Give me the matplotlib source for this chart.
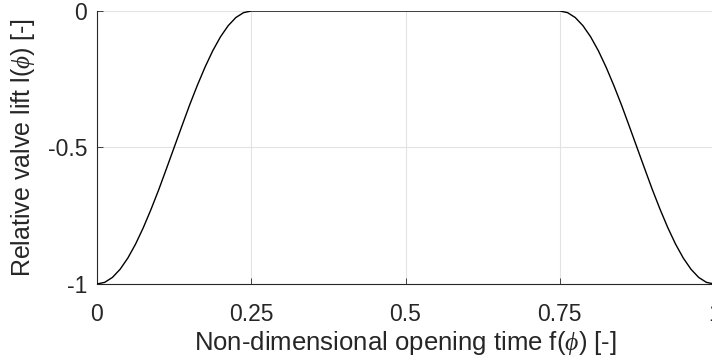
import matplotlib.pyplot as plt
import numpy as np

plt.rcParams['font.family'] = ['Liberation Sans', 'DejaVu Sans']
plt.rcParams['mathtext.fontset'] = 'custom'
plt.rcParams['mathtext.it'] = 'Liberation Serif:italic'

# opening phase: relative lift over non-dimensional time
phase = [0.0, 0.0125, 0.025, 0.0375, 0.05, 0.0625, 0.075, 0.0875, 0.1, 0.1125,
         0.125, 0.1375, 0.15, 0.1625, 0.175, 0.1875, 0.2, 0.2125, 0.225, 0.2375, 0.25]
lift_up = [-1.0, -0.994, -0.976, -0.946, -0.905, -0.854, -0.794, -0.727, -0.655, -0.578,
           -0.5, -0.422, -0.345, -0.273, -0.206, -0.146, -0.095, -0.054, -0.024, -0.006, 0.0]

# closing phase mirrors the opening one
t_open = np.array(phase)
t_close = 1.0 - t_open[::-1]
t = np.concatenate([t_open, t_close])
lift = np.concatenate([lift_up, lift_up[::-1]])

xticks = [0, 0.25, 0.5, 0.75, 1]
xticklabels = ['0', '0.25', '0.5', '0.75', '1']
yticks = [-1, -0.5, 0]
yticklabels = ['-1', '-0.5', '0']

fig = plt.figure(figsize=(7.12, 3.62), dpi=100)
ax = fig.add_axes([0.1362, 0.2155, 0.8668, 0.7541])

ax.plot(t, lift, color='black', lw=1.0, zorder=3)

ax.set_xlim(0, 1)
ax.set_ylim(-1, 0)
ax.set_xticks(xticks)
ax.set_xticklabels(xticklabels)
ax.set_yticks(yticks)
ax.set_yticklabels(yticklabels)
ax.grid(True, color='#e3e3e3', lw=0.8)
ax.set_axisbelow(True)

for side in ['top', 'right']:
    ax.spines[side].set_visible(False)
for side in ['left', 'bottom']:
    ax.spines[side].set_color('#262626')
    ax.spines[side].set_linewidth(0.8)

ax.tick_params(direction='in', length=4, width=0.6, colors='#262626',
               labelsize=16.5, labelcolor='#262626')
ax.tick_params(axis='x', pad=14)
ax.tick_params(axis='y', pad=7)

ax.set_xlabel(r'Non-dimensional opening time f($\phi$) [-]', fontsize=18.5, color='#262626', labelpad=2)
ax.set_ylabel(r'Relative valve lift l($\phi$) [-]', fontsize=18, color='#262626', labelpad=8)

fig.savefig('out.png', dpi=100, facecolor='white')
